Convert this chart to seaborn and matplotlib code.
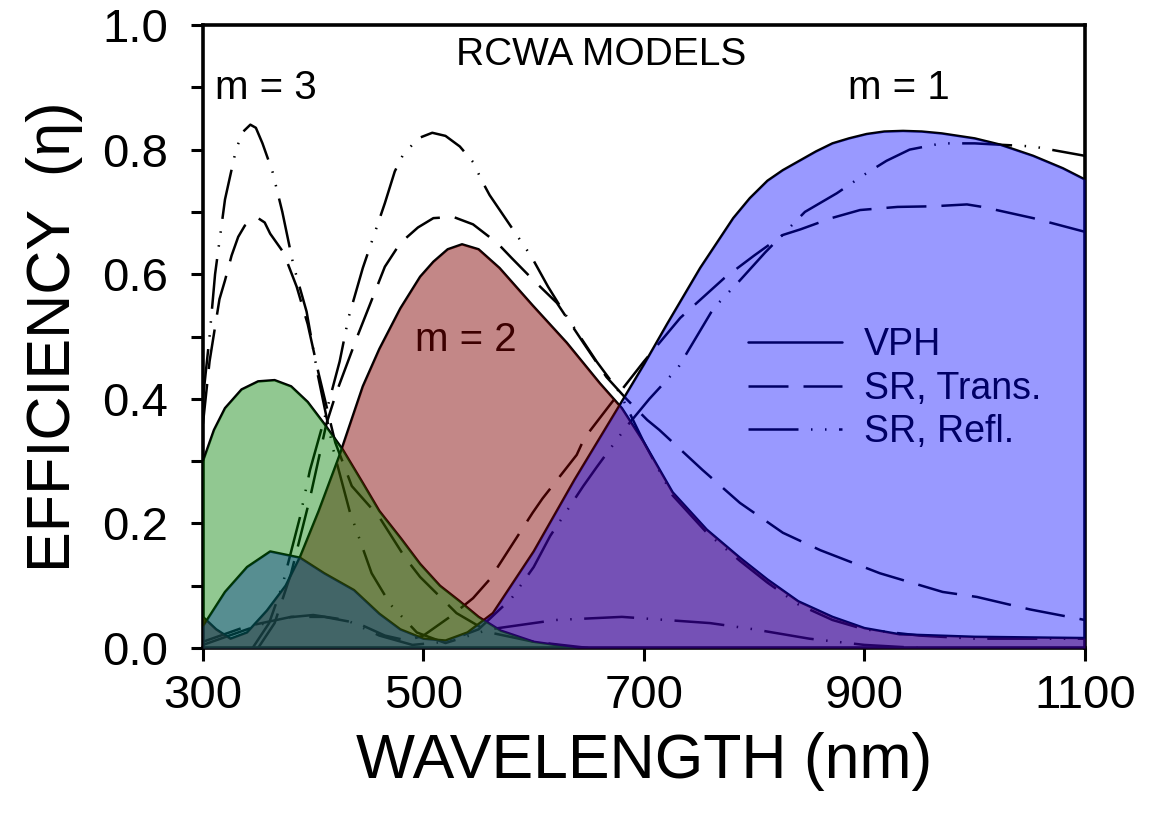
import matplotlib
matplotlib.use("Agg")
import matplotlib.pyplot as plt
from matplotlib.lines import Line2D
from matplotlib.ticker import MultipleLocator
import numpy as np
import seaborn as sns

# ---------------- data ----------------
# m = 3
m3_vph_x = [300, 310, 320, 335, 350, 365, 380, 395, 410, 427, 445, 460, 480, 497, 515, 533, 550, 570, 600, 640]
m3_vph_y = [0.30, 0.35, 0.385, 0.415, 0.428, 0.43, 0.42, 0.395, 0.36, 0.318, 0.265, 0.22, 0.175, 0.135, 0.10, 0.075, 0.05, 0.028, 0.01, 0.0]
m3_tr_x = [300, 306, 315, 320, 326, 332, 338, 343, 350, 356, 361, 367, 373, 385, 395, 405, 420, 435, 460, 483, 497, 530, 560, 600, 650]
m3_tr_y = [0.36, 0.46, 0.56, 0.59, 0.63, 0.66, 0.678, 0.685, 0.69, 0.683, 0.665, 0.65, 0.635, 0.58, 0.52, 0.44, 0.33, 0.26, 0.21, 0.146, 0.114, 0.056, 0.025, 0.01, 0.0]
m3_rf_x = [300, 306, 311, 320, 330, 336, 343, 348, 354, 363, 372, 382, 394, 404, 418, 433, 453, 470, 494, 520,
           560, 620, 680, 720, 760, 800, 850, 900, 950]
m3_rf_y = [0.40, 0.50, 0.60, 0.72, 0.80, 0.828, 0.84, 0.835, 0.81, 0.765, 0.70, 0.615, 0.54, 0.44, 0.32, 0.22, 0.12, 0.07, 0.025, 0.008,
           0.03, 0.045, 0.05, 0.045, 0.04, 0.03, 0.015, 0.005, 0.0]

# m = 2
m2_vph_x = [300, 312, 325, 340, 358, 375, 388, 405, 424, 445, 460, 479, 497, 509, 522, 535, 550, 569, 599, 630, 660,
            680, 700, 726, 757, 787, 812, 840, 871, 900, 932, 1000, 1100]
m2_vph_y = [0.05, 0.03, 0.015, 0.025, 0.06, 0.10, 0.146, 0.22, 0.31, 0.42, 0.48, 0.545, 0.596, 0.62, 0.64, 0.648, 0.64,
            0.61, 0.55, 0.49, 0.425, 0.385, 0.33, 0.25, 0.19, 0.145, 0.11, 0.075, 0.05, 0.032, 0.022, 0.018, 0.016]
m2_tr_x = [350, 365, 380, 397, 412, 421, 440, 465, 479, 495, 509, 527, 545, 567, 580, 600, 621, 645, 666, 684, 703,
           714, 753, 787, 826, 860, 914, 971, 1002, 1050, 1100]
m2_tr_y = [0.0, 0.04, 0.12, 0.24, 0.36, 0.41, 0.50, 0.612, 0.65, 0.675, 0.69, 0.692, 0.68, 0.65, 0.626, 0.59, 0.554,
           0.49, 0.435, 0.40, 0.366, 0.35, 0.286, 0.233, 0.185, 0.157, 0.12, 0.09, 0.082, 0.062, 0.045]
m2_rf_x = [345, 360, 372, 388, 397, 412, 424, 432, 445, 465, 474, 481, 495, 508, 520, 533, 545, 553, 560, 598, 613,
           627, 657, 678, 700, 726, 757, 787, 812, 840, 871, 900, 950, 1000, 1100]
m2_rf_y = [0.0, 0.04, 0.10, 0.21, 0.285, 0.38, 0.46, 0.53, 0.61, 0.714, 0.765, 0.79, 0.818, 0.827, 0.822, 0.805, 0.78,
           0.75, 0.727, 0.628, 0.58, 0.54, 0.46, 0.41, 0.33, 0.245, 0.185, 0.14, 0.105, 0.07, 0.045, 0.03, 0.02, 0.015, 0.015]

# m = 1
m1_vph_x = [300, 320, 340, 361, 388, 410, 437, 460, 479, 500, 520, 540, 563, 600, 637, 678, 700, 721, 751, 781, 796,
            812, 826, 841, 856, 871, 886, 902, 918, 935, 952, 970, 1000, 1023, 1053, 1080, 1100]
m1_vph_y = [0.035, 0.09, 0.13, 0.155, 0.145, 0.12, 0.093, 0.055, 0.03, 0.015, 0.012, 0.025, 0.056, 0.155, 0.27, 0.39,
            0.455, 0.52, 0.61, 0.69, 0.722, 0.75, 0.767, 0.782, 0.797, 0.81, 0.818, 0.825, 0.829, 0.83, 0.829, 0.826,
            0.818, 0.808, 0.79, 0.77, 0.752]
m1_tr_x = [300, 340, 380, 410, 440, 465, 485, 500, 524, 545, 560, 571, 599, 608, 639, 646, 669, 700, 733, 773, 800,
           826, 842, 870, 896, 930, 962, 993, 1007, 1053, 1100]
m1_tr_y = [0.01, 0.035, 0.05, 0.05, 0.04, 0.02, 0.012, 0.02, 0.05, 0.08, 0.11, 0.14, 0.217, 0.24, 0.31, 0.337, 0.39,
           0.46, 0.53, 0.594, 0.63, 0.663, 0.672, 0.69, 0.703, 0.708, 0.709, 0.712, 0.708, 0.69, 0.668]
m1_rf_x = [300, 340, 370, 400, 430, 460, 490, 520, 550, 580, 600, 615, 630, 645, 657, 684, 705, 731, 763, 787, 810,
           846, 875, 900, 920, 941, 970, 1000, 1053, 1100]
m1_rf_y = [0.005, 0.03, 0.048, 0.053, 0.045, 0.02, 0.005, 0.01, 0.03, 0.08, 0.13, 0.18, 0.22, 0.26, 0.29, 0.355, 0.40,
           0.45, 0.545, 0.59, 0.635, 0.70, 0.73, 0.76, 0.782, 0.80, 0.81, 0.81, 0.805, 0.79]

x_ticks = [300, 500, 700, 900, 1100]
y_ticks = [0.0, 0.2, 0.4, 0.6, 0.8, 1.0]
legend_labels = ["VPH", "SR, Trans.", "SR, Refl."]

# ---------------- styling ----------------
sns.set_theme(style="ticks")
plt.rcParams["font.family"] = ["Liberation Sans", "DejaVu Sans"]
plt.rcParams["text.color"] = "black"
plt.rcParams["axes.labelcolor"] = "black"

TRANS_DASH = (0, (16, 6))
REFL_DASH = (0, (20, 5, 0.6, 5, 0.6, 5))
LW = 1.8

fig, ax = plt.subplots(figsize=(11.61, 8.14), dpi=100)
fig.subplots_adjust(left=0.1748, right=0.9345, bottom=0.2039, top=0.9693)

curves = [
    (m3_vph_x, m3_vph_y, "-"), (m3_tr_x, m3_tr_y, TRANS_DASH), (m3_rf_x, m3_rf_y, REFL_DASH),
    (m2_vph_x, m2_vph_y, "-"), (m2_tr_x, m2_tr_y, TRANS_DASH), (m2_rf_x, m2_rf_y, REFL_DASH),
    (m1_vph_x, m1_vph_y, "-"), (m1_tr_x, m1_tr_y, TRANS_DASH), (m1_rf_x, m1_rf_y, REFL_DASH),
]
for xs, ys, ls in curves:
    sns.lineplot(x=xs, y=ys, ax=ax, color="black", linewidth=LW, linestyle=ls,
                 estimator=None, sort=False, zorder=2)

# translucent fills drawn over the lines (lines show through darkened)
ax.fill_between(m2_vph_x, 0, m2_vph_y, color=(0.5, 0.0, 0.0), alpha=0.47, lw=0, zorder=3.0)
ax.fill_between(m1_vph_x, 0, m1_vph_y, color=(0.0, 0.0, 1.0), alpha=0.40, lw=0, zorder=3.1)
ax.fill_between(m3_vph_x, 0, m3_vph_y, color=(0.0, 0.5, 0.0), alpha=0.43, lw=0, zorder=3.2)

# texts
ax.text(661, 0.952, "RCWA MODELS", ha="center", va="center", fontsize=28, color="black", zorder=5)
ax.text(311, 0.899, "m = 3", ha="left", va="center", fontsize=29, color="black", zorder=5)
ax.text(885, 0.899, "m = 1", ha="left", va="center", fontsize=29, color="black", zorder=5)
ax.text(492, 0.494, "m = 2", ha="left", va="center", fontsize=29, color="black", zorder=2.5)

handles = [Line2D([], [], color="black", lw=LW, linestyle="-"),
           Line2D([], [], color="black", lw=LW, linestyle=TRANS_DASH),
           Line2D([], [], color="black", lw=LW, linestyle=REFL_DASH)]
leg = ax.legend(handles, legend_labels, loc="upper left", bbox_to_anchor=(0.618, 0.515),
                frameon=False, fontsize=27, handlelength=2.5, handletextpad=0.6,
                labelspacing=0.2, borderpad=0, borderaxespad=0, labelcolor="black")
leg.set_zorder(2.5)

ax.set_xlim(300, 1100)
ax.set_ylim(0, 1.0)
ax.set_xticks(x_ticks)
ax.set_xticklabels([str(v) for v in x_ticks])
ax.set_yticks(y_ticks)
ax.set_yticklabels([f"{v:.1f}" for v in y_ticks])
ax.yaxis.set_minor_locator(MultipleLocator(0.1))
ax.tick_params(axis="both", which="both", direction="out", length=9, width=2.2,
               color="black", labelsize=34, labelcolor="black", top=False, right=False)
ax.tick_params(axis="y", which="both", pad=16)
ax.tick_params(axis="x", which="both", pad=10)
for sp in ax.spines.values():
    sp.set_visible(True)
    sp.set_linewidth(2.6)
    sp.set_color("black")

ax.set_xlabel("WAVELENGTH (nm)", fontsize=45, labelpad=10, color="black")
ax.set_ylabel("EFFICIENCY  (η)", fontsize=44, labelpad=14, color="black")
ax.grid(False)

fig.savefig("out.png", dpi=100)
